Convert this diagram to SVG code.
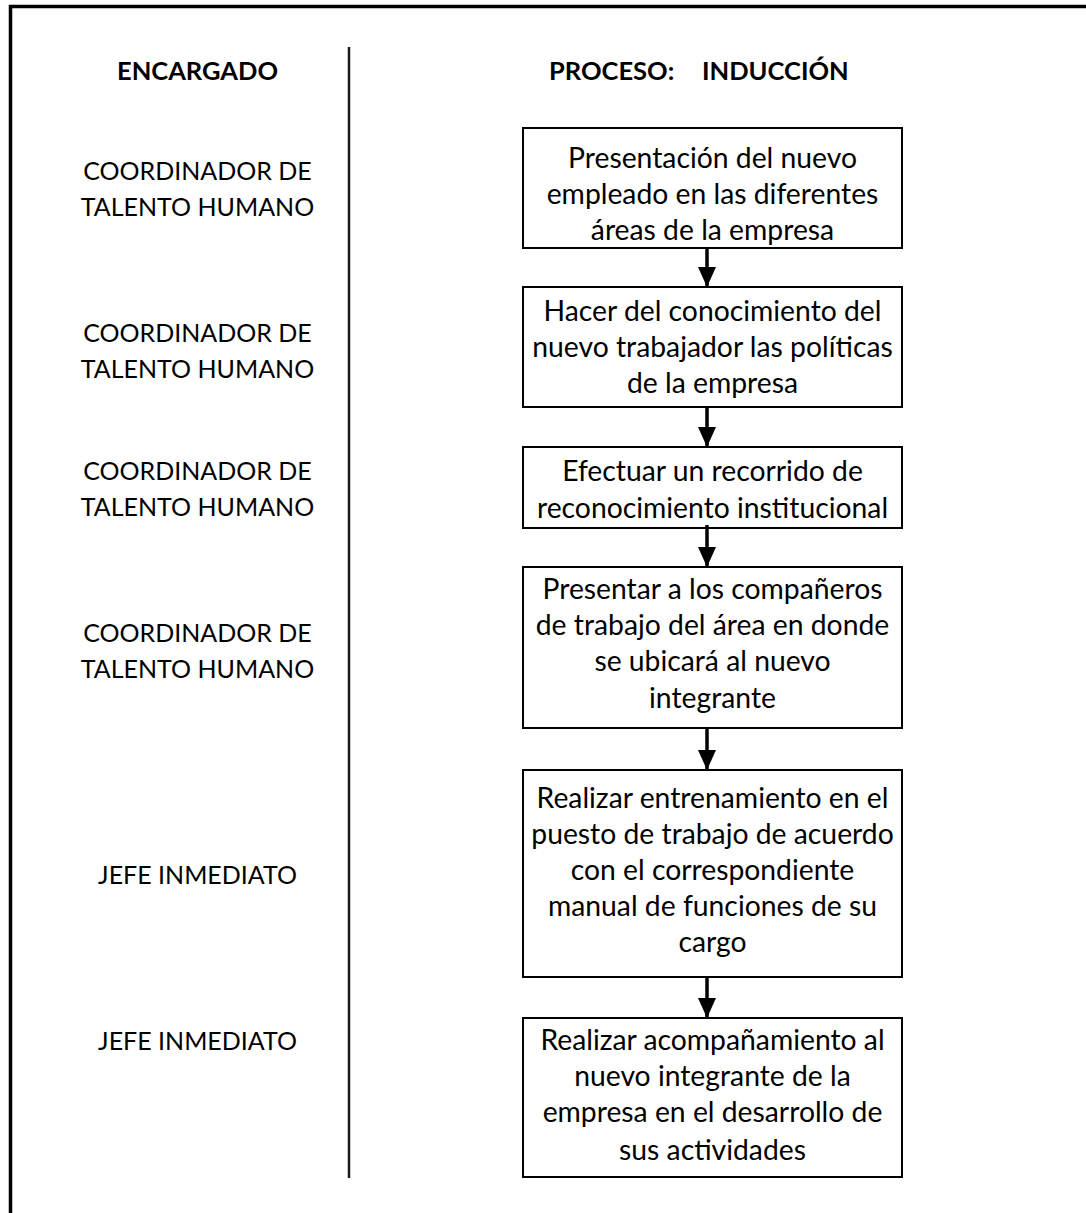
<svg xmlns="http://www.w3.org/2000/svg" width="1086" height="1213" viewBox="0 0 1086 1213">
  <style>
    .frame { fill: none; stroke: #000; stroke-width: 3.5; }
    .divider { stroke: #1a1a1a; stroke-width: 2.5; }
    .box { fill: #fff; stroke: #000; stroke-width: 2; }
    .head { font-family: "Lato", "Liberation Sans", sans-serif; font-weight: bold; font-size: 25.5px; fill: #000; }
    .role { font-family: "Lato", "Liberation Sans", sans-serif; font-size: 25px; fill: #000; text-anchor: middle; }
    .step { font-family: "Lato", "Liberation Sans", sans-serif; font-size: 28.3px; fill: #000; text-anchor: middle; }
    .flow { stroke: #000; stroke-width: 3.5; fill: none; marker-end: url(#arrow); }
  </style>
  <defs>
    <!-- arrowhead drawn pointing along +x; orient="auto" turns it with the line -->
    <marker id="arrow" markerUnits="userSpaceOnUse" viewBox="0 0 20 18" markerWidth="20" markerHeight="18" refX="20" refY="9" orient="auto">
      <path d="M0,0 L20,9 L0,18 Z" fill="#000"/>
    </marker>
  </defs>

  <rect width="1086" height="1213" fill="#fff"/>

  <!-- outer frame: top and left edges -->
  <path class="frame" d="M10.5,1213 V6.5 H1086"/>

  <!-- lane divider -->
  <line class="divider" x1="349" y1="47" x2="349" y2="1178"/>

  <!-- column headings -->
  <text class="head" x="197.5" y="80" text-anchor="middle">ENCARGADO</text>
  <text class="head" y="80"><tspan x="549">PROCESO:</tspan><tspan x="702">INDUCCIÓN</tspan></text>

  <!-- responsible roles -->
  <g id="role-1">
    <text class="role" x="197.5" y="180">COORDINADOR DE</text>
    <text class="role" x="197.5" y="216">TALENTO HUMANO</text>
  </g>
  <g id="role-2">
    <text class="role" x="197.5" y="342">COORDINADOR DE</text>
    <text class="role" x="197.5" y="378">TALENTO HUMANO</text>
  </g>
  <g id="role-3">
    <text class="role" x="197.5" y="480">COORDINADOR DE</text>
    <text class="role" x="197.5" y="516">TALENTO HUMANO</text>
  </g>
  <g id="role-4">
    <text class="role" x="197.5" y="642">COORDINADOR DE</text>
    <text class="role" x="197.5" y="678">TALENTO HUMANO</text>
  </g>
  <g id="role-5">
    <text class="role" x="197.5" y="884">JEFE INMEDIATO</text>
  </g>
  <g id="role-6">
    <text class="role" x="197.5" y="1050">JEFE INMEDIATO</text>
  </g>

  <!-- process steps -->
  <g id="step-1">
    <rect class="box" x="523" y="128" width="379" height="120"/>
    <text class="step" x="712.5" y="168">Presentación del nuevo</text>
    <text class="step" x="712.5" y="204">empleado en las diferentes</text>
    <text class="step" x="712.5" y="240">áreas de la empresa</text>
  </g>
  <g id="step-2">
    <rect class="box" x="523" y="287" width="379" height="120"/>
    <text class="step" x="712.5" y="321">Hacer del conocimiento del</text>
    <text class="step" x="712.5" y="357">nuevo trabajador las políticas</text>
    <text class="step" x="712.5" y="393">de la empresa</text>
  </g>
  <g id="step-3">
    <rect class="box" x="523" y="447" width="379" height="81"/>
    <text class="step" x="712.5" y="481">Efectuar un recorrido de</text>
    <text class="step" x="712.5" y="518">reconocimiento institucional</text>
  </g>
  <g id="step-4">
    <rect class="box" x="523" y="567" width="379" height="161"/>
    <text class="step" x="712.5" y="599">Presentar a los compañeros</text>
    <text class="step" x="712.5" y="635">de trabajo del área en donde</text>
    <text class="step" x="712.5" y="671">se ubicará al nuevo</text>
    <text class="step" x="712.5" y="708">integrante</text>
  </g>
  <g id="step-5">
    <rect class="box" x="523" y="770" width="379" height="207"/>
    <text class="step" x="712.5" y="808">Realizar entrenamiento en el</text>
    <text class="step" x="712.5" y="844">puesto de trabajo de acuerdo</text>
    <text class="step" x="712.5" y="880">con el correspondiente</text>
    <text class="step" x="712.5" y="916">manual de funciones de su</text>
    <text class="step" x="712.5" y="952">cargo</text>
  </g>
  <g id="step-6">
    <rect class="box" x="523" y="1018" width="379" height="159"/>
    <text class="step" x="712.5" y="1050">Realizar acompañamiento al</text>
    <text class="step" x="712.5" y="1086">nuevo integrante de la</text>
    <text class="step" x="712.5" y="1122">empresa en el desarrollo de</text>
    <text class="step" x="712.5" y="1160">sus actividades</text>
  </g>

  <!-- connectors between steps -->
  <g id="connectors">
    <line class="flow" x1="707" y1="248" x2="707" y2="287"/>
    <line class="flow" x1="707" y1="407" x2="707" y2="447"/>
    <line class="flow" x1="707" y1="525" x2="707" y2="567"/>
    <line class="flow" x1="707" y1="728" x2="707" y2="770"/>
    <line class="flow" x1="707" y1="977" x2="707" y2="1018"/>
  </g>
</svg>
